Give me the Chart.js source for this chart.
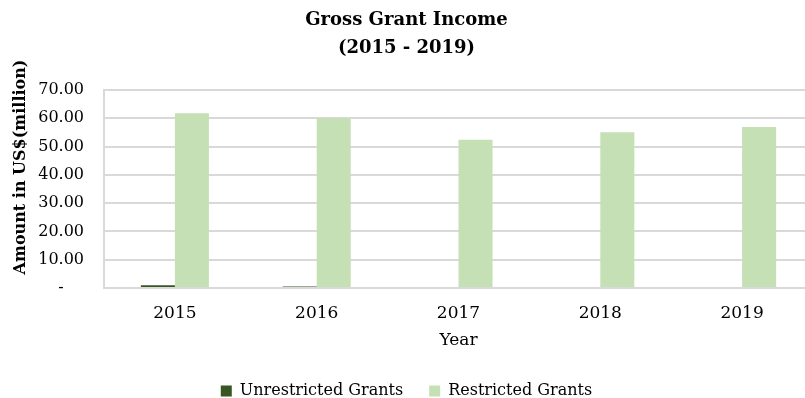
<!DOCTYPE html>
<html>
<head>
<meta charset="utf-8">
<script src="https://cdn.jsdelivr.net/npm/chart.js@4"></script>
<style>
  html, body { margin: 0; padding: 0; background: #fff; overflow: hidden; }
  #clip { width: 805px; height: 398px; overflow: hidden; }
  #wrap { width: 813px; height: 398px; }
</style>
</head>
<body>
<div id="clip"><div id="wrap"><canvas id="chart"></canvas></div></div>
<script>
const years = ['2015', '2016', '2017', '2018', '2019'];
const unrestricted = [0.9, 0.5, 0, 0, 0];
const restricted = [61.8, 60.1, 52.4, 55.1, 56.9];
const yTicks = [0, 10, 20, 30, 40, 50, 60, 70];

const serif = 'DejaVu Serif';

// y axis title drawn by hand so it sits where the original has it
const yTitle = {
    id: 'yTitle',
    afterDraw(chart) {
        const ctx = chart.ctx;
        ctx.save();
        ctx.translate(21, 167);
        ctx.rotate(-Math.PI / 2);
        ctx.font = 'bold 16px "' + serif + '"';
        ctx.fillStyle = '#000';
        ctx.textAlign = 'center';
        ctx.textBaseline = 'middle';
        ctx.fillText('Amount in US$(million)', 0, 0);
        ctx.restore();
    }
};

new Chart(document.getElementById('chart'), {
    type: 'bar',
    data: {
        labels: years,
        datasets: [{
            label: 'Unrestricted Grants',
            data: unrestricted,
            backgroundColor: '#375623',
            categoryPercentage: 0.48,
            barPercentage: 1.0
        }, {
            label: 'Restricted Grants',
            data: restricted,
            backgroundColor: '#c5e0b4',
            categoryPercentage: 0.48,
            barPercentage: 1.0
        }]
    },
    options: {
        responsive: true,
        maintainAspectRatio: false,
        animation: false,
        layout: { padding: { top: 6, right: 0, bottom: -11, left: 0 } },
        plugins: {
            title: {
                display: true,
                text: ['Gross Grant Income', '(2015 - 2019)'],
                color: '#000',
                font: { family: serif, size: 18, weight: 'bold', lineHeight: 1.556 },
                padding: { top: 0, bottom: 28 }
            },
            legend: {
                position: 'bottom',
                labels: {
                    color: '#000',
                    font: { family: serif, size: 16 },
                    boxWidth: 11,
                    boxHeight: 11,
                    padding: 26
                }
            },
            tooltip: { enabled: false }
        },
        scales: {
            x: {
                grid: { display: false },
                border: { display: false },
                ticks: { color: '#000', font: { family: serif, size: 17, lineHeight: 1.1 }, padding: 8 },
                title: {
                    display: true,
                    text: 'Year',
                    color: '#000',
                    font: { family: serif, size: 17 },
                    padding: { top: 0, bottom: 6 }
                }
            },
            y: {
                min: 0,
                max: 70,
                afterBuildTicks(scale) {
                    scale.ticks = yTicks.map(v => ({ value: v }));
                },
                afterFit(scale) { scale.width = 104; },
                grid: { color: '#d9d9d9', lineWidth: 2, drawTicks: false },
                border: { display: true, color: '#d9d9d9', width: 2 },
                ticks: {
                    color: '#000',
                    font: { family: serif, size: 16 },
                    padding: 20,
                    callback: v => v === 0 ? '-    ' : v.toFixed(2)
                }
            }
        }
    },
    plugins: [yTitle]
});
</script>
</body>
</html>
